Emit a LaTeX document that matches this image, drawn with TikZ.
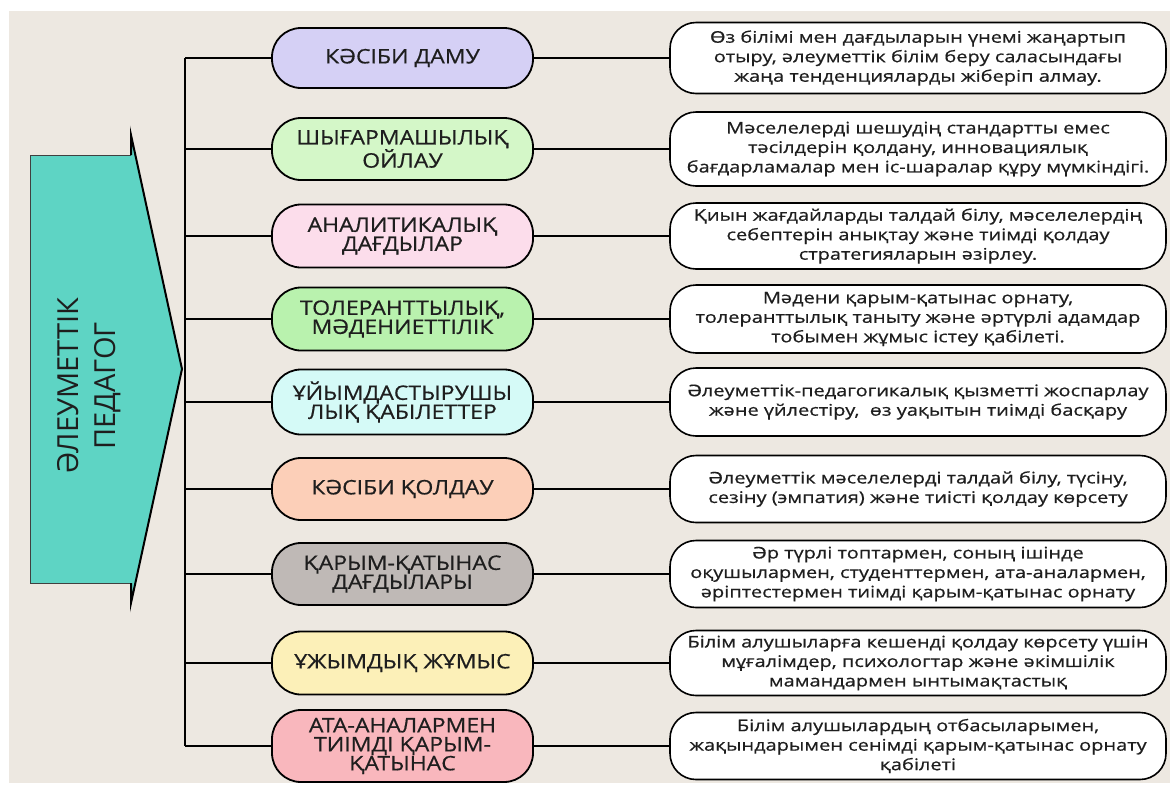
\documentclass[tikz,border=0pt]{standalone}
\usepackage{fontspec}
\usepackage{tikz}
\usepackage{xcolor}
\setmainfont{Open Sans}
\newfontfamily\widefont[FakeStretch=1.15,FakeBold=0.6]{Open Sans}
\newfontfamily\descfont[FakeStretch=1.25,FakeBold=0.6]{Open Sans}
\definecolor{paper}{RGB}{237,232,225}
\definecolor{arrowteal}{RGB}{94,212,196}
\definecolor{inkgray}{RGB}{30,30,30}
\definecolor{boxlav}{RGB}{213,208,245}
\definecolor{boxmint}{RGB}{212,247,200}
\definecolor{boxpink}{RGB}{252,221,235}
\definecolor{boxgreen}{RGB}{185,242,174}
\definecolor{boxcyan}{RGB}{213,250,247}
\definecolor{boxpeach}{RGB}{252,207,184}
\definecolor{boxgrey}{RGB}{191,185,182}
\definecolor{boxyellow}{RGB}{252,240,184}
\definecolor{boxrose}{RGB}{249,183,189}

\begin{document}
\begin{tikzpicture}[x=1pt,y=-1pt,
    midbox/.style={draw=black,line width=1.8pt,rounded corners=29pt,minimum width=261pt,
        inner sep=0pt,align=center,text=inkgray,font=\widefont\fontsize{20}{19}\selectfont},
    descbox/.style={draw=black,line width=1.6pt,fill=white,rounded corners=26pt,minimum width=496pt,
        inner sep=0pt,align=center,text=inkgray,font=\descfont\fontsize{16}{19.5}\selectfont},
    link/.style={line width=1.8pt}]
    % Paper
    \fill[white] (0,0) rectangle (1170,785);
    \fill[paper] (9,11) rectangle (1170,783);
    \useasboundingbox (0,0) rectangle (1170,785);

    % Big arrow
    \fill[arrowteal] (30,155) rectangle (131,583);
    \fill[arrowteal] (131,135) -- (182,369) -- (131,603) -- cycle;
    \draw[line width=0.9pt,black!75] (131,155) -- (30,155) -- (30,583) -- (131,583);
    \draw[line width=2pt] (131,155) -- (131,135) -- (182,369) -- (131,603) -- (131,583);
    \node[rotate=90,align=center,text=inkgray,font=\fontsize{29}{36.7}\selectfont] (title) at (89,386) {ӘЛЕУМЕТТІК\\ПЕДАГОГ};

    % Skills
    \node[midbox,fill=boxlav,minimum height=60pt] (mid1) at (402.5,58) {КӘСІБИ ДАМУ};
    \node[midbox,fill=boxmint,minimum height=62pt] (mid2) at (402.5,149) {ШЫҒАРМАШЫЛЫҚ\\ОЙЛАУ};
    \node[midbox,fill=boxpink,minimum height=63pt] (mid3) at (402.5,236) {АНАЛИТИКАЛЫҚ\\ДАҒДЫЛАР};
    \node[midbox,fill=boxgreen,minimum height=63pt] (mid4) at (402.5,319) {ТОЛЕРАНТТЫЛЫҚ,\\МӘДЕНИЕТТІЛІК};
    \node[midbox,fill=boxcyan,minimum height=65pt] (mid5) at (402.5,402) {ҰЙЫМДАСТЫРУШЫ\\ЛЫҚ ҚАБІЛЕТТЕР};
    \node[midbox,fill=boxpeach,minimum height=62pt] (mid6) at (402.5,489) {КӘСІБИ ҚОЛДАУ};
    \node[midbox,fill=boxgrey,minimum height=62pt] (mid7) at (402.5,574) {ҚАРЫМ-ҚАТЫНАС\\ДАҒДЫЛАРЫ};
    \node[midbox,fill=boxyellow,minimum height=63pt] (mid8) at (402.5,663) {ҰЖЫМДЫҚ ЖҰМЫС};
    \node[midbox,fill=boxrose,minimum height=72pt] (mid9) at (402.5,746) {АТА-АНАЛАРМЕН\\ТИІМДІ ҚАРЫМ-\\ҚАТЫНАС};

    % Descriptions
    \node[descbox,minimum height=71pt] (desc1) at (918,58) {Өз білімі мен дағдыларын үнемі жаңартып\\отыру, әлеуметтік білім беру саласындағы\\жаңа тенденцияларды жіберіп алмау.};
    \node[descbox,minimum height=74pt] (desc2) at (918,149) {Мәселелерді шешудің стандартты емес\\тәсілдерін қолдану, инновациялық\\бағдарламалар мен іс-шаралар құру мүмкіндігі.};
    \node[descbox,minimum height=66pt] (desc3) at (918,236) {Қиын жағдайларды талдай білу, мәселелердің\\себептерін анықтау және тиімді қолдау\\стратегияларын әзірлеу.};
    \node[descbox,minimum height=68pt] (desc4) at (918,319) {Мәдени қарым-қатынас орнату,\\толеранттылық таныту және әртүрлі адамдар\\тобымен жұмыс істеу қабілеті.};
    \node[descbox,minimum height=68pt] (desc5) at (918,402) {Әлеуметтік-педагогикалық қызметті жоспарлау\\және үйлестіру,~~өз уақытын тиімді басқару};
    \node[descbox,minimum height=67pt] (desc6) at (918,489) {Әлеуметтік мәселелерді талдай білу, түсіну,\\сезіну (эмпатия) және тиісті қолдау көрсету};
    \node[descbox,minimum height=67pt] (desc7) at (918,574) {Әр түрлі топтармен, соның ішінде\\оқушылармен, студенттермен, ата-аналармен,\\әріптестермен тиімді қарым-қатынас орнату};
    \node[descbox,minimum height=65pt] (desc8) at (918,663) {Білім алушыларға кешенді қолдау көрсету үшін\\мұғалімдер, психологтар және әкімшілік\\мамандармен ынтымақтастық};
    \node[descbox,minimum height=67pt] (desc9) at (918,746) {Білім алушылардың отбасыларымен,\\жақындарымен сенімді қарым-қатынас орнату\\қабілеті};

    % Trunk and branches
    \coordinate (trunktop) at (185,58);
    \coordinate (trunkbot) at (185,746);
    \draw[link] (trunktop) -- (trunkbot);
    \draw[link] (mid1.west) -- (mid1.west -| trunktop);
    \draw[link] (mid2.west) -- (mid2.west -| trunktop);
    \draw[link] (mid3.west) -- (mid3.west -| trunktop);
    \draw[link] (mid4.west) -- (mid4.west -| trunktop);
    \draw[link] (mid5.west) -- (mid5.west -| trunktop);
    \draw[link] (mid6.west) -- (mid6.west -| trunktop);
    \draw[link] (mid7.west) -- (mid7.west -| trunktop);
    \draw[link] (mid8.west) -- (mid8.west -| trunktop);
    \draw[link] (mid9.west) -- (mid9.west -| trunktop);
    \draw[link] (mid1.east) -- (desc1.west);
    \draw[link] (mid2.east) -- (desc2.west);
    \draw[link] (mid3.east) -- (desc3.west);
    \draw[link] (mid4.east) -- (desc4.west);
    \draw[link] (mid5.east) -- (desc5.west);
    \draw[link] (mid6.east) -- (desc6.west);
    \draw[link] (mid7.east) -- (desc7.west);
    \draw[link] (mid8.east) -- (desc8.west);
    \draw[link] (mid9.east) -- (desc9.west);
\end{tikzpicture}
\end{document}
